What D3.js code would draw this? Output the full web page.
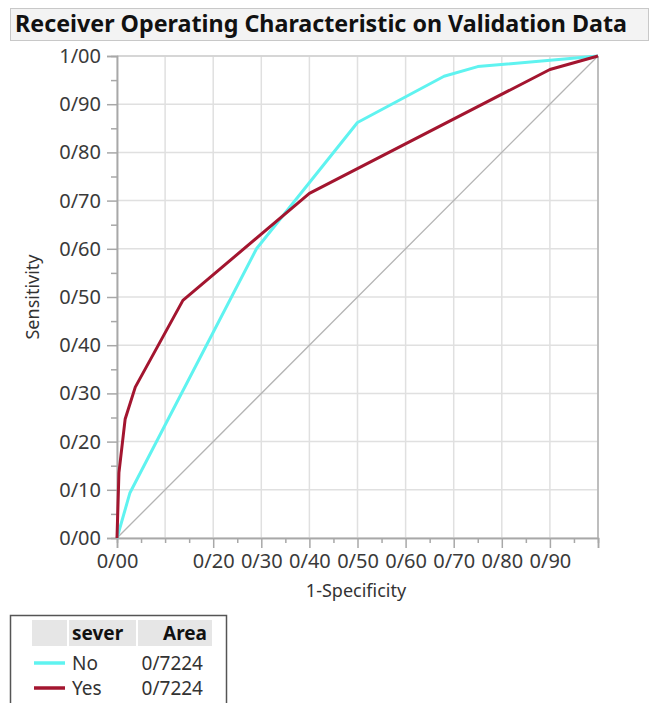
<!DOCTYPE html>
<html>
<head>
<meta charset="utf-8">
<script src="https://cdn.jsdelivr.net/npm/d3@7"></script>
<style>
  body { margin: 0; background: #fff; }
  svg { display: block; font-family: "Noto Sans", "Open Sans", sans-serif; }
</style>
</head>
<body>
<svg></svg>
<script>
// ROC points
let noX  = [0, 0.027, 0.29, 0.50, 0.68, 0.75, 1.00];
let noY  = [0, 0.094, 0.60, 0.862, 0.958, 0.978, 1.00];
let yesX = [0, 0.004, 0.017, 0.038, 0.137, 0.40, 0.90, 1.00];
let yesY = [0, 0.135, 0.247, 0.313, 0.493, 0.715, 0.972, 1.00];

let xTicks = [0, 0.2, 0.3, 0.4, 0.5, 0.6, 0.7, 0.8, 0.9];
let yTicks = [0, 0.1, 0.2, 0.3, 0.4, 0.5, 0.6, 0.7, 0.8, 0.9, 1.0];
let gridTicks = d3.range(0, 1.0001, 0.1);
let minorTicks = d3.range(0.05, 1, 0.1);

let legendNames = ["No", "Yes"];
let legendAreas = ["0/7224", "0/7224"];
let colors = ["#5ff3f0", "#a3152f"];

let width = 654;
let height = 703;

let svg = d3.select("svg").attr("width", width).attr("height", height);

let fmt = d => d3.format(".2f")(d).replace(".", "/");

let xScale = d3.scaleLinear().domain([0, 1]).range([117, 598]);
let yScale = d3.scaleLinear().domain([0, 1]).range([538, 56]);

// title box
svg.append("rect")
   .attr("x", 10.5).attr("y", 8.5).attr("width", 638).attr("height", 32)
   .attr("fill", "#f3f3f3").attr("stroke", "#c8c8c8");
svg.append("text")
   .attr("x", 15).attr("y", 32)
   .attr("font-size", 23).attr("font-weight", "bold").attr("fill", "#111")
   .attr("textLength", 612).attr("lengthAdjust", "spacingAndGlyphs")
   .text("Receiver Operating Characteristic on Validation Data");

// grid
let grid = svg.append("g").attr("stroke", "#e0e0e0").attr("stroke-width", 1.5);
grid.selectAll(".gx").data(gridTicks).enter().append("line")
    .attr("x1", d => xScale(d)).attr("x2", d => xScale(d))
    .attr("y1", yScale(0)).attr("y2", yScale(1));
grid.selectAll(".gy").data(gridTicks).enter().append("line")
    .attr("y1", d => yScale(d)).attr("y2", d => yScale(d))
    .attr("x1", xScale(0)).attr("x2", xScale(1));

// frame right/top
svg.append("line").attr("x1", xScale(1)).attr("x2", xScale(1))
   .attr("y1", yScale(0)).attr("y2", yScale(1)).attr("stroke", "#b0b0b0").attr("stroke-width", 1.5);
svg.append("line").attr("x1", xScale(0)).attr("x2", xScale(1))
   .attr("y1", yScale(1)).attr("y2", yScale(1)).attr("stroke", "#d0d0d0").attr("stroke-width", 1.5);

// axes
let xAxis = d3.axisBottom(xScale).tickValues(xTicks).tickFormat(fmt).tickSize(10).tickPadding(6);
let xMinor = d3.axisBottom(xScale).tickValues(minorTicks.concat([0.1, 1.0])).tickFormat("").tickSize(5);
let yAxis = d3.axisLeft(yScale).tickValues(yTicks).tickFormat(fmt).tickSize(10).tickPadding(6);
let yMinor = d3.axisLeft(yScale).tickValues(minorTicks).tickFormat("").tickSize(6);

let gx = svg.append("g").attr("transform", "translate(0," + yScale(0) + ")").call(xAxis);
let gxm = svg.append("g").attr("transform", "translate(0," + yScale(0) + ")").call(xMinor);
let gy = svg.append("g").attr("transform", "translate(" + xScale(0) + ",0)").call(yAxis);
let gym = svg.append("g").attr("transform", "translate(" + xScale(0) + ",0)").call(yMinor);

// 1.0 x tick is a major length tick without label
gxm.selectAll(".tick").filter(d => d === 1.0).select("line").attr("y2", 10);

[gx, gxm, gy, gym].forEach(g => {
  g.select(".domain").attr("stroke", "#a8a8a8").attr("stroke-width", 1.5);
  g.selectAll(".tick line").attr("stroke", "#a8a8a8").attr("stroke-width", 1.5);
  g.selectAll(".tick text").attr("fill", "#3a3a3a").attr("font-size", 20)
   .attr("font-family", "'Noto Sans', sans-serif");
});

// axis titles
svg.append("text").attr("x", 356).attr("y", 597).attr("text-anchor", "middle")
   .attr("font-size", 18).attr("fill", "#333").text("1-Specificity");
svg.append("text").attr("transform", "translate(39,297) rotate(-90)")
   .attr("text-anchor", "middle").attr("font-size", 18).attr("fill", "#333").text("Sensitivity");

// diagonal
svg.append("line")
   .attr("x1", xScale(0)).attr("y1", yScale(0)).attr("x2", xScale(1)).attr("y2", yScale(1))
   .attr("stroke", "#b4b4b4").attr("stroke-width", 1.3);

let line = d3.line().x(d => xScale(d[0])).y(d => yScale(d[1]));

svg.append("path").datum(d3.zip(noX, noY))
   .attr("d", line).attr("fill", "none").attr("stroke", colors[0])
   .attr("stroke-width", 3).attr("stroke-linejoin", "round");
svg.append("path").datum(d3.zip(yesX, yesY))
   .attr("d", line).attr("fill", "none").attr("stroke", colors[1])
   .attr("stroke-width", 3).attr("stroke-linejoin", "round");

// legend table
let lg = svg.append("g");
lg.append("rect").attr("x", 10.5).attr("y", 615.5).attr("width", 216).attr("height", 100)
  .attr("fill", "#fff").attr("stroke", "#555").attr("stroke-width", 1.5);
lg.append("rect").attr("x", 32).attr("y", 620).attr("width", 35).attr("height", 26).attr("fill", "#e6e6e6");
lg.append("rect").attr("x", 69).attr("y", 620).attr("width", 67).attr("height", 26).attr("fill", "#e6e6e6");
lg.append("rect").attr("x", 138).attr("y", 620).attr("width", 74).attr("height", 26).attr("fill", "#e6e6e6");
lg.append("text").attr("x", 72).attr("y", 640).attr("font-size", 19).attr("font-weight", "bold")
  .attr("fill", "#111").text("sever");
lg.append("text").attr("x", 207).attr("y", 640).attr("text-anchor", "end").attr("font-size", 19)
  .attr("font-weight", "bold").attr("fill", "#111").text("Area");

let rows = lg.selectAll(".row").data(legendNames).enter().append("g")
  .attr("transform", (d, i) => "translate(0," + (663 + i * 25) + ")");
rows.append("line").attr("x1", 34).attr("x2", 65).attr("y1", 0).attr("y2", 0)
  .attr("stroke", (d, i) => colors[i]).attr("stroke-width", 3.5);
rows.append("text").attr("x", 72).attr("y", 7).attr("font-size", 19).attr("fill", "#333").text(d => d);
rows.append("text").attr("x", 203).attr("y", 7).attr("text-anchor", "end").attr("font-size", 19)
  .attr("fill", "#333").text((d, i) => legendAreas[i]);
</script>
</body>
</html>
